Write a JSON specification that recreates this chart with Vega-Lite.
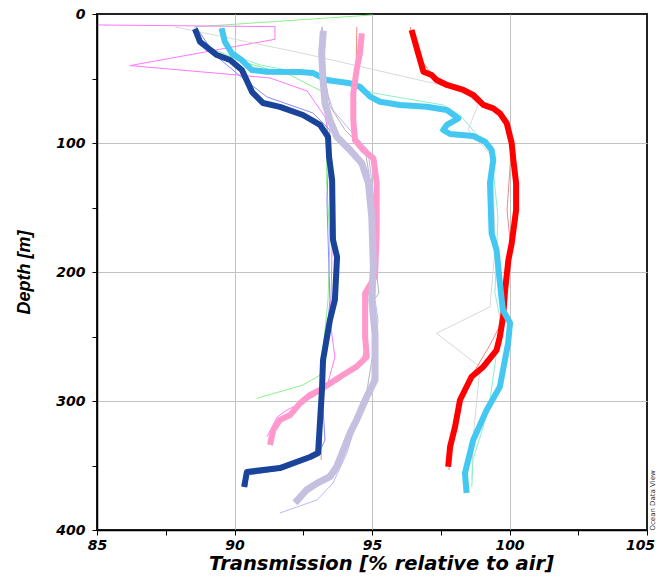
{
  "$schema": "https://vega.github.io/schema/vega-lite/v6.json",
  "width": 550,
  "height": 516,
  "autosize": {"type": "none"},
  "padding": {"left": 97, "top": 14, "right": 9, "bottom": 46},
  "background": "white",
  "config": {"view": {"stroke": "#222", "strokeWidth": 2}},
  "datasets": {
    "thin": [
      {"s": "green", "x": 94.99, "d": 0.8}, {"s": "green", "x": 88.56, "d": 10}, {"s": "green", "x": 88.64, "d": 21.7}, {"s": "green", "x": 90.31, "d": 37.2}, {"s": "green", "x": 92.02, "d": 47.3}, {"s": "green", "x": 93.22, "d": 60.5}, {"s": "green", "x": 93.4, "d": 72}, {"s": "green", "x": 93.36, "d": 90}, {"s": "green", "x": 93.35, "d": 128.7}, {"s": "green", "x": 93.47, "d": 175}, {"s": "green", "x": 93.4, "d": 221.7}, {"s": "green", "x": 93.18, "d": 268}, {"s": "green", "x": 93.11, "d": 280}, {"s": "green", "x": 92.49, "d": 287.6}, {"s": "green", "x": 90.81, "d": 298},
      {"s": "magenta", "x": 85.04, "d": 8.5}, {"s": "magenta", "x": 91.47, "d": 9.8}, {"s": "magenta", "x": 91.47, "d": 19.6}, {"s": "magenta", "x": 86.2, "d": 40}, {"s": "magenta", "x": 90.1, "d": 47.3}, {"s": "magenta", "x": 91.29, "d": 49.6}, {"s": "magenta", "x": 92.64, "d": 59.7}, {"s": "magenta", "x": 93.3, "d": 80}, {"s": "magenta", "x": 93.47, "d": 100}, {"s": "magenta", "x": 93.58, "d": 144}, {"s": "magenta", "x": 93.51, "d": 221.7}, {"s": "magenta", "x": 93.47, "d": 237.2}, {"s": "magenta", "x": 93.65, "d": 265.9}, {"s": "magenta", "x": 93.36, "d": 289}, {"s": "magenta", "x": 92.85, "d": 297}, {"s": "magenta", "x": 91.91, "d": 307}, {"s": "magenta", "x": 91.55, "d": 312.4}, {"s": "magenta", "x": 91.18, "d": 327.9},
      {"s": "lgray", "x": 87.84, "d": 10}, {"s": "lgray", "x": 92.38, "d": 30}, {"s": "lgray", "x": 98.32, "d": 59}, {"s": "lgray", "x": 98.86, "d": 70.5}, {"s": "lgray", "x": 98.49, "d": 89.9}, {"s": "lgray", "x": 99.4, "d": 110.9}, {"s": "lgray", "x": 99.47, "d": 183}, {"s": "lgray", "x": 99.29, "d": 227}, {"s": "lgray", "x": 97.35, "d": 247.5}, {"s": "lgray", "x": 98.93, "d": 273.6}, {"s": "lgray", "x": 98.67, "d": 330}, {"s": "lgray", "x": 98.63, "d": 361},
      {"s": "gray", "x": 93.18, "d": 10}, {"s": "gray", "x": 93.29, "d": 24}, {"s": "gray", "x": 93.18, "d": 35.7}, {"s": "gray", "x": 93.47, "d": 71.3}, {"s": "gray", "x": 94.02, "d": 90}, {"s": "gray", "x": 94.75, "d": 105.4}, {"s": "gray", "x": 95.04, "d": 144.2}, {"s": "gray", "x": 95.15, "d": 198.4}, {"s": "gray", "x": 95.25, "d": 216.3}, {"s": "gray", "x": 95.07, "d": 221.7}, {"s": "gray", "x": 95.11, "d": 252.7}, {"s": "gray", "x": 94.82, "d": 291.5},
      {"s": "blue", "x": 88.6, "d": 10}, {"s": "blue", "x": 89.29, "d": 31.8}, {"s": "blue", "x": 90.38, "d": 51.2}, {"s": "blue", "x": 91.18, "d": 64.3}, {"s": "blue", "x": 92.85, "d": 76.7}, {"s": "blue", "x": 93.47, "d": 90}, {"s": "blue", "x": 93.36, "d": 144.2}, {"s": "blue", "x": 93.47, "d": 221.7}, {"s": "blue", "x": 93.18, "d": 291.5}, {"s": "blue", "x": 93.29, "d": 330.2}, {"s": "blue", "x": 93.04, "d": 341.9}, {"s": "blue", "x": 91.65, "d": 353.5}, {"s": "blue", "x": 90.49, "d": 357.4}, {"s": "blue", "x": 90.45, "d": 366.7},
      {"s": "lblue", "x": 93.18, "d": 10}, {"s": "lblue", "x": 93.11, "d": 31.8}, {"s": "lblue", "x": 93.22, "d": 51.2}, {"s": "lblue", "x": 93.58, "d": 74.4}, {"s": "lblue", "x": 94.2, "d": 90}, {"s": "lblue", "x": 94.85, "d": 105.4}, {"s": "lblue", "x": 95.07, "d": 144.2}, {"s": "lblue", "x": 95.11, "d": 221.7}, {"s": "lblue", "x": 95.22, "d": 237.2}, {"s": "lblue", "x": 95, "d": 283.7}, {"s": "lblue", "x": 94.56, "d": 307}, {"s": "lblue", "x": 94.09, "d": 340.3}, {"s": "lblue", "x": 93.58, "d": 363.6}, {"s": "lblue", "x": 93, "d": 376.7}, {"s": "lblue", "x": 91.65, "d": 386.8},
      {"s": "salmon", "x": 96.38, "d": 10}, {"s": "salmon", "x": 96.67, "d": 31.8}, {"s": "salmon", "x": 97.18, "d": 47.3}, {"s": "salmon", "x": 98.56, "d": 61.2}, {"s": "salmon", "x": 99.84, "d": 82.2}, {"s": "salmon", "x": 100.09, "d": 97.7}, {"s": "salmon", "x": 99.91, "d": 152}, {"s": "salmon", "x": 100.02, "d": 175.2}, {"s": "salmon", "x": 99.76, "d": 237.2}, {"s": "salmon", "x": 99.29, "d": 256.6}, {"s": "salmon", "x": 98.75, "d": 276}, {"s": "salmon", "x": 98.27, "d": 299.2}, {"s": "salmon", "x": 97.84, "d": 338}, {"s": "salmon", "x": 97.8, "d": 353.5},
      {"s": "salmon2", "x": 94.45, "d": 10}, {"s": "salmon2", "x": 94.42, "d": 43.4}, {"s": "salmon2", "x": 94.27, "d": 74.4}, {"s": "salmon2", "x": 94.42, "d": 97.7}, {"s": "salmon2", "x": 95, "d": 111.6}, {"s": "salmon2", "x": 95.18, "d": 144.2}, {"s": "salmon2", "x": 95.07, "d": 206.2}, {"s": "salmon2", "x": 94.78, "d": 221.7}, {"s": "salmon2", "x": 94.78, "d": 256.6}, {"s": "salmon2", "x": 94.64, "d": 268.2}, {"s": "salmon2", "x": 93.84, "d": 283.7}, {"s": "salmon2", "x": 93.18, "d": 291.5}, {"s": "salmon2", "x": 93.15, "d": 345.7},
      {"s": "mint", "x": 89.47, "d": 10}, {"s": "mint", "x": 89.91, "d": 31.8}, {"s": "mint", "x": 90.93, "d": 39.5}, {"s": "mint", "x": 93.47, "d": 49.6}, {"s": "mint", "x": 95.04, "d": 61.2}, {"s": "mint", "x": 97.58, "d": 70.5}, {"s": "mint", "x": 98.2, "d": 78.3}, {"s": "mint", "x": 99.29, "d": 105.4}, {"s": "mint", "x": 99.4, "d": 118.6}, {"s": "mint", "x": 99.58, "d": 157.4}, {"s": "mint", "x": 99.47, "d": 216.3}, {"s": "mint", "x": 99.65, "d": 234.9}, {"s": "mint", "x": 99.53, "d": 262.8}, {"s": "mint", "x": 99.29, "d": 299.2}, {"s": "mint", "x": 99.04, "d": 320.2}, {"s": "mint", "x": 98.67, "d": 345.7}, {"s": "mint", "x": 98.63, "d": 366.7}
    ],
    "thick": [
      {"s": "dblue", "x": 88.56, "d": 11.6}, {"s": "dblue", "x": 88.75, "d": 21.7}, {"s": "dblue", "x": 89.36, "d": 31.8}, {"s": "dblue", "x": 89.84, "d": 35.7}, {"s": "dblue", "x": 90.27, "d": 43.4}, {"s": "dblue", "x": 90.64, "d": 60.5}, {"s": "dblue", "x": 91.04, "d": 69}, {"s": "dblue", "x": 91.65, "d": 72}, {"s": "dblue", "x": 92.49, "d": 78.3}, {"s": "dblue", "x": 93.11, "d": 86}, {"s": "dblue", "x": 93.4, "d": 95.3}, {"s": "dblue", "x": 93.44, "d": 110.9}, {"s": "dblue", "x": 93.55, "d": 128.7}, {"s": "dblue", "x": 93.58, "d": 175}, {"s": "dblue", "x": 93.73, "d": 188.4}, {"s": "dblue", "x": 93.65, "d": 221.7}, {"s": "dblue", "x": 93.47, "d": 237.2}, {"s": "dblue", "x": 93.22, "d": 268.2}, {"s": "dblue", "x": 93.18, "d": 291.5}, {"s": "dblue", "x": 93.04, "d": 340.3}, {"s": "dblue", "x": 92.75, "d": 343.4}, {"s": "dblue", "x": 91.65, "d": 352}, {"s": "dblue", "x": 90.45, "d": 355}, {"s": "dblue", "x": 90.35, "d": 366.7},
      {"s": "cyan", "x": 89.53, "d": 11.1}, {"s": "cyan", "x": 89.65, "d": 21.5}, {"s": "cyan", "x": 89.9, "d": 30.5}, {"s": "cyan", "x": 90.26, "d": 35.7}, {"s": "cyan", "x": 90.63, "d": 43.4}, {"s": "cyan", "x": 91.17, "d": 44.7}, {"s": "cyan", "x": 92.38, "d": 45}, {"s": "cyan", "x": 92.85, "d": 45.7}, {"s": "cyan", "x": 93.35, "d": 51.2}, {"s": "cyan", "x": 94.2, "d": 53.7}, {"s": "cyan", "x": 94.56, "d": 56.4}, {"s": "cyan", "x": 94.93, "d": 64.1}, {"s": "cyan", "x": 95.29, "d": 68}, {"s": "cyan", "x": 96.02, "d": 70.5}, {"s": "cyan", "x": 96.99, "d": 71.9}, {"s": "cyan", "x": 97.72, "d": 74.4}, {"s": "cyan", "x": 98.14, "d": 80.9}, {"s": "cyan", "x": 97.72, "d": 86}, {"s": "cyan", "x": 97.59, "d": 89.9}, {"s": "cyan", "x": 97.84, "d": 93}, {"s": "cyan", "x": 98.68, "d": 94.6}, {"s": "cyan", "x": 99.11, "d": 99}, {"s": "cyan", "x": 99.35, "d": 105.4}, {"s": "cyan", "x": 99.41, "d": 113.2}, {"s": "cyan", "x": 99.29, "d": 131}, {"s": "cyan", "x": 99.35, "d": 170}, {"s": "cyan", "x": 99.53, "d": 183}, {"s": "cyan", "x": 99.65, "d": 208.5}, {"s": "cyan", "x": 99.76, "d": 229.5}, {"s": "cyan", "x": 100.02, "d": 239.5}, {"s": "cyan", "x": 99.95, "d": 255}, {"s": "cyan", "x": 99.65, "d": 289}, {"s": "cyan", "x": 99.17, "d": 307}, {"s": "cyan", "x": 98.68, "d": 330.2}, {"s": "cyan", "x": 98.38, "d": 355.8}, {"s": "cyan", "x": 98.44, "d": 371.3},
      {"s": "red", "x": 96.44, "d": 12.4}, {"s": "red", "x": 96.68, "d": 30.5}, {"s": "red", "x": 96.87, "d": 44.7}, {"s": "red", "x": 97.17, "d": 47.3}, {"s": "red", "x": 97.35, "d": 51.2}, {"s": "red", "x": 97.72, "d": 55}, {"s": "red", "x": 98.32, "d": 58.9}, {"s": "red", "x": 98.68, "d": 62.8}, {"s": "red", "x": 99.05, "d": 70.5}, {"s": "red", "x": 99.41, "d": 73.1}, {"s": "red", "x": 99.65, "d": 77}, {"s": "red", "x": 99.9, "d": 84.7}, {"s": "red", "x": 100.08, "d": 100.2}, {"s": "red", "x": 100.14, "d": 113.2}, {"s": "red", "x": 100.24, "d": 131}, {"s": "red", "x": 100.24, "d": 152}, {"s": "red", "x": 100.08, "d": 177.8}, {"s": "red", "x": 99.96, "d": 190.7}, {"s": "red", "x": 99.84, "d": 214}, {"s": "red", "x": 99.77, "d": 234.6}, {"s": "red", "x": 99.65, "d": 250.2}, {"s": "red", "x": 99.53, "d": 260.5}, {"s": "red", "x": 99.05, "d": 273.4}, {"s": "red", "x": 98.62, "d": 281.2}, {"s": "red", "x": 98.38, "d": 291.5}, {"s": "red", "x": 98.2, "d": 299.2}, {"s": "red", "x": 98.02, "d": 320}, {"s": "red", "x": 97.84, "d": 335.4}, {"s": "red", "x": 97.77, "d": 351},
      {"s": "pink", "x": 94.63, "d": 15}, {"s": "pink", "x": 94.56, "d": 30.5}, {"s": "pink", "x": 94.44, "d": 43.4}, {"s": "pink", "x": 94.32, "d": 61.5}, {"s": "pink", "x": 94.32, "d": 82.2}, {"s": "pink", "x": 94.38, "d": 97.7}, {"s": "pink", "x": 94.68, "d": 105.4}, {"s": "pink", "x": 95.05, "d": 111.9}, {"s": "pink", "x": 95.17, "d": 131}, {"s": "pink", "x": 95.17, "d": 170}, {"s": "pink", "x": 95.11, "d": 203.6}, {"s": "pink", "x": 94.75, "d": 216.5}, {"s": "pink", "x": 94.75, "d": 250.2}, {"s": "pink", "x": 94.81, "d": 265.7}, {"s": "pink", "x": 94.44, "d": 273.4}, {"s": "pink", "x": 93.84, "d": 281.2}, {"s": "pink", "x": 93.11, "d": 291.5}, {"s": "pink", "x": 92.75, "d": 295.3}, {"s": "pink", "x": 92.38, "d": 301.8}, {"s": "pink", "x": 92.02, "d": 310.9}, {"s": "pink", "x": 91.65, "d": 314.7}, {"s": "pink", "x": 91.41, "d": 322.5}, {"s": "pink", "x": 91.29, "d": 334.1},
      {"s": "lavender", "x": 93.23, "d": 13}, {"s": "lavender", "x": 93.17, "d": 30.5}, {"s": "lavender", "x": 93.21, "d": 48.6}, {"s": "lavender", "x": 93.29, "d": 69.2}, {"s": "lavender", "x": 93.47, "d": 82.2}, {"s": "lavender", "x": 93.72, "d": 95.1}, {"s": "lavender", "x": 94.2, "d": 105.4}, {"s": "lavender", "x": 94.63, "d": 115.7}, {"s": "lavender", "x": 94.87, "d": 131.2}, {"s": "lavender", "x": 94.99, "d": 157.1}, {"s": "lavender", "x": 95.05, "d": 195.9}, {"s": "lavender", "x": 94.99, "d": 221.7}, {"s": "lavender", "x": 95.11, "d": 247.5}, {"s": "lavender", "x": 95.11, "d": 283.7}, {"s": "lavender", "x": 94.81, "d": 296.7}, {"s": "lavender", "x": 94.44, "d": 314.7}, {"s": "lavender", "x": 94.2, "d": 325}, {"s": "lavender", "x": 93.96, "d": 338}, {"s": "lavender", "x": 93.72, "d": 350.9}, {"s": "lavender", "x": 93.47, "d": 358.7}, {"s": "lavender", "x": 92.99, "d": 363.8}, {"s": "lavender", "x": 92.62, "d": 369}, {"s": "lavender", "x": 92.2, "d": 379}
    ]
  },
  "encoding": {
    "x": {"field": "x", "type": "quantitative", "scale": {"domain": [85, 105], "nice": false, "zero": false}, "axis": null},
    "y": {"field": "d", "type": "quantitative", "scale": {"domain": [0, 400], "nice": false, "zero": false, "reverse": true}, "axis": null},
    "color": {"field": "s", "type": "nominal", "legend": null, "scale": {
      "domain": ["green", "magenta", "lgray", "gray", "blue", "lblue", "salmon", "salmon2", "mint", "dblue", "cyan", "red", "pink", "lavender"],
      "range": ["#8cef8c", "#ff77ff", "#d9d9d9", "#b4b4b4", "#8a8aff", "#b8b8ff", "#f08a80", "#f08a80", "#8cf0cc", "#1a449a", "#44c8f2", "#ff0000", "#ff99cc", "#c6c0e0"]}},
    "order": {"field": "d", "type": "quantitative"}
  },
  "resolve": {"axis": {"x": "independent", "y": "independent"}},
  "layer": [
    {
      "data": {"name": "thin"},
      "mark": {"type": "line", "strokeWidth": 1, "strokeJoin": "round"},
      "encoding": {
        "x": {"field": "x", "type": "quantitative", "axis": {
          "orient": "bottom",
          "values": [85, 87.5, 90, 92.5, 95, 97.5, 100, 102.5, 105],
          "labelExpr": "datum.value % 5 === 0 ? datum.label : ''",
          "labelOffset": {"condition": {"test": "datum.value === 105", "value": -7}, "value": 0},
          "title": "Transmission [% relative to air]",
          "titleX": 284,
          "grid": true, "gridColor": "#c2c2c2", "gridWidth": 1,
          "gridOpacity": {"condition": {"test": "datum.value % 5 !== 0 || datum.value === 85 || datum.value === 105", "value": 0}, "value": 1},
          "tickSize": 5, "tickColor": "#000", "domainColor": "#000", "domainWidth": 1.5,
          "labelFont": "DejaVu Sans", "labelFontWeight": "bold", "labelFontStyle": "italic", "labelFontSize": 14, "labelColor": "#000", "labelPadding": 3, "labelFlush": false,
          "titleFont": "DejaVu Sans", "titleFontSize": 19.5, "titleFontWeight": "bold", "titleFontStyle": "italic", "titleColor": "#000", "titlePadding": 2
        }},
        "y": {"field": "d", "type": "quantitative", "axis": {
          "orient": "left",
          "values": [0, 50, 100, 150, 200, 250, 300, 350, 400],
          "labelExpr": "datum.value % 100 === 0 ? datum.label : ''",
          "title": "Depth [m]",
          "grid": true, "gridColor": "#c2c2c2", "gridWidth": 1,
          "gridOpacity": {"condition": {"test": "datum.value % 100 !== 0 || datum.value === 0 || datum.value === 400", "value": 0}, "value": 1},
          "tickSize": 5, "tickColor": "#000", "domainColor": "#000", "domainWidth": 1.5,
          "labelFont": "DejaVu Sans", "labelFontWeight": "bold", "labelFontStyle": "italic", "labelFontSize": 14, "labelColor": "#000", "labelPadding": 7, "labelFlush": false,
          "titleFont": "Liberation Sans", "titleFontSize": 18, "titleFontWeight": "bold", "titleFontStyle": "italic", "titleColor": "#000", "titlePadding": 22
        }}
      }
    },
    {
      "data": {"name": "thick"},
      "transform": [{"filter": "datum.s === 'red'"}],
      "mark": {"type": "line", "strokeWidth": 6, "strokeJoin": "round"},
      "encoding": {
        "y": {"field": "d", "type": "quantitative", "axis": {
          "orient": "right", "title": "Ocean Data View", "labels": false, "ticks": false, "domain": false, "grid": false,
          "titleFont": "DejaVu Sans", "titleFontSize": 7, "titleFontWeight": "normal", "titleColor": "#333", "titlePadding": 8, "titleAngle": 270, "titleAnchor": "end", "titleAlign": "left"
        }}
      }
    },
    {
      "data": {"name": "thick"},
      "transform": [{"filter": "datum.s === 'cyan'"}],
      "mark": {"type": "line", "strokeWidth": 6, "strokeJoin": "round"}
    },
    {
      "data": {"name": "thick"},
      "transform": [{"filter": "datum.s === 'pink'"}],
      "mark": {"type": "line", "strokeWidth": 6, "strokeJoin": "round"}
    },
    {
      "data": {"name": "thick"},
      "transform": [{"filter": "datum.s === 'lavender'"}],
      "mark": {"type": "line", "strokeWidth": 7, "strokeJoin": "round"}
    },
    {
      "data": {"name": "thick"},
      "transform": [{"filter": "datum.s === 'dblue'"}],
      "mark": {"type": "line", "strokeWidth": 6, "strokeJoin": "round"}
    }
  ]
}
